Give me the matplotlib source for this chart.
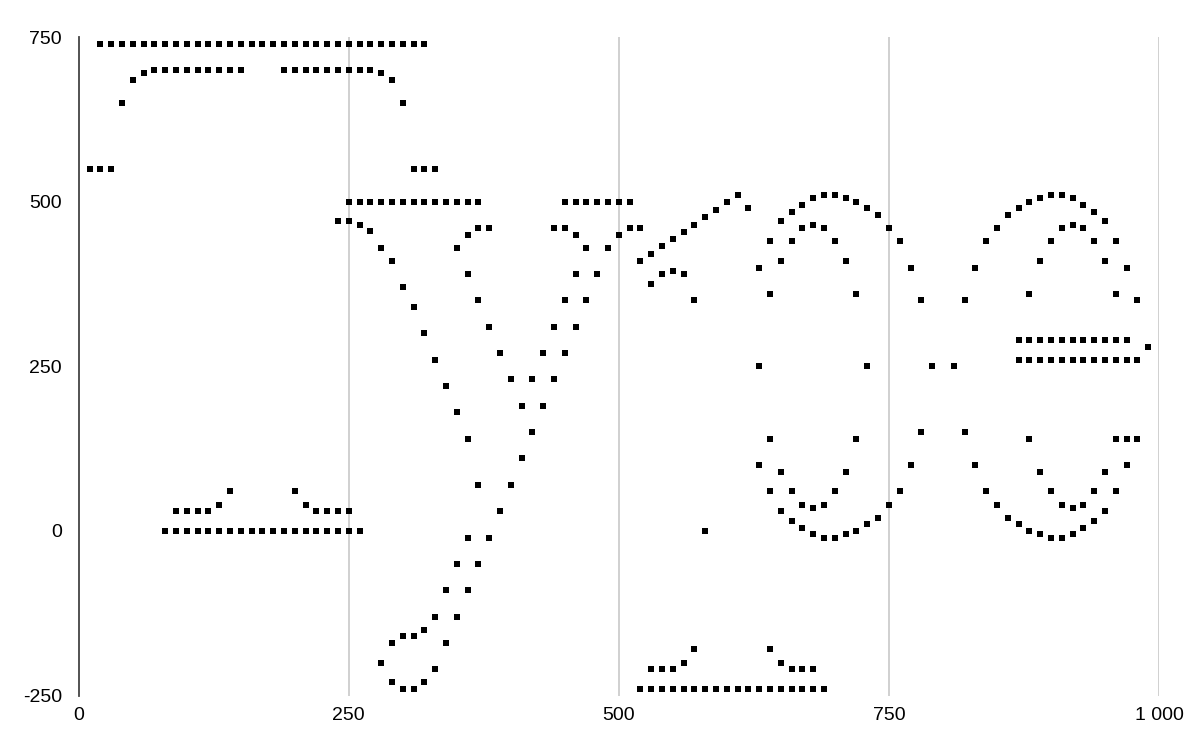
import matplotlib
matplotlib.use('Agg')
import matplotlib.pyplot as plt

plt.rcParams['font.family'] = ['Liberation Sans', 'DejaVu Sans']

# --- data, grouped by shape ---
# top-left "hat"
hat_top_x = [20, 30, 40, 50, 60, 70, 80, 90, 100, 110, 120, 130, 140, 150, 160, 170,
             180, 190, 200, 210, 220, 230, 240, 250, 260, 270, 280, 290, 300, 310, 320]
hat_top_y = [740] * len(hat_top_x)
hat_arch_x = [10, 20, 30, 40, 50, 60, 70, 80, 90, 100, 110, 120, 130, 140, 150,
              190, 200, 210, 220, 230, 240, 250, 260, 270, 280, 290, 300, 310, 320, 330]
hat_arch_y = [550, 550, 550, 650, 685, 695, 700, 700, 700, 700, 700, 700, 700, 700, 700,
              700, 700, 700, 700, 700, 700, 700, 700, 700, 695, 685, 650, 550, 550, 550]

# bottom-left "brim"
brim_x = [80, 90, 100, 110, 120, 130, 140, 150, 160, 170, 180, 190, 200, 210, 220,
          230, 240, 250, 260]
brim_y = [0] * len(brim_x)
bump_x = [90, 100, 110, 120, 130, 140, 200, 210, 220, 230, 240, 250]
bump_y = [30, 30, 30, 30, 40, 60, 60, 40, 30, 30, 30, 30]

# flat rows at 500
row500_x = [250, 260, 270, 280, 290, 300, 310, 320, 330, 340, 350, 360, 370,
            450, 460, 470, 480, 490, 500, 510]
row500_y = [500] * len(row500_x)

# big "V" with loop at the bottom
v_outer_x = [240, 250, 260, 270, 280, 290, 300, 310, 320, 330, 340, 350, 360, 370]
v_outer_y = [470, 470, 465, 455, 430, 410, 370, 340, 300, 260, 220, 180, 140, 70]
v_loop_x = [390, 380, 370, 360, 350, 340, 330, 320, 310, 300, 290, 280,
            290, 300, 310, 320, 330, 340, 350, 360]
v_loop_y = [30, -10, -50, -90, -130, -170, -210, -230, -240, -240, -230, -200,
            -170, -160, -160, -150, -130, -90, -50, -10]
v_inner_x = [350, 360, 370, 380, 360, 370, 380, 390, 400, 410, 420, 430, 440,
             410, 420, 400]
v_inner_y = [430, 450, 460, 460, 390, 350, 310, 270, 230, 190, 230, 190, 230,
             110, 150, 70]
v_right_x = [440, 450, 460, 470, 490, 500, 510, 520, 460, 480, 450, 470, 440, 460,
             430, 450]
v_right_y = [460, 460, 450, 430, 430, 450, 460, 460, 390, 390, 350, 350, 310, 310,
             270, 270]

# rising line and small arc near 500-620
rise_x = [520, 530, 540, 550, 560, 570, 580, 590, 600, 610, 620]
rise_y = [410, 421, 432, 443, 454, 465, 477, 488, 499, 510, 490]
arc_x = [530, 540, 550, 560, 570, 580]
arc_y = [375, 390, 395, 390, 350, 0]

# bottom-right "brim"
brim2_x = [520, 530, 540, 550, 560, 570, 580, 590, 600, 610, 620, 630, 640, 650,
           660, 670, 680, 690]
brim2_y = [-240] * len(brim2_x)
bump2_x = [530, 540, 550, 560, 570, 640, 650, 660, 670, 680]
bump2_y = [-210, -210, -210, -200, -180, -180, -200, -210, -210, -210]

# first ring (630-780)
ring1_top_x = [630, 640, 650, 660, 670, 680, 690, 700, 710, 720, 730, 740, 750,
               760, 770, 780, 790]
ring1_top_y = [400, 440, 470, 485, 495, 505, 510, 510, 505, 500, 490, 480, 460,
               440, 400, 350, 250]
ring1_bot_x = [630, 640, 650, 660, 670, 680, 690, 700, 710, 720, 730, 740, 750,
               760, 770, 780]
ring1_bot_y = [100, 60, 30, 15, 5, -5, -10, -10, -5, 0, 10, 20, 40, 60, 100, 150]
ring1_in_x = [640, 650, 660, 670, 680, 690, 700, 710, 720,
              640, 650, 660, 670, 680, 690, 700, 710, 720, 630, 730]
ring1_in_y = [360, 410, 440, 460, 465, 460, 440, 410, 360,
              140, 90, 60, 40, 35, 40, 60, 90, 140, 250, 250]

# second ring (810-980)
ring2_top_x = [810, 820, 830, 840, 850, 860, 870, 880, 890, 900, 910, 920, 930,
               940, 950, 960, 970, 980]
ring2_top_y = [250, 350, 400, 440, 460, 480, 490, 500, 505, 510, 510, 505, 495,
               485, 470, 440, 400, 350]
ring2_bot_x = [820, 830, 840, 850, 860, 870, 880, 890, 900, 910, 920, 930, 940,
               950, 960, 970]
ring2_bot_y = [150, 100, 60, 40, 20, 10, 0, -5, -10, -10, -5, 5, 15, 30, 60, 100]
ring2_in_x = [880, 890, 900, 910, 920, 930, 940, 950, 960,
              880, 890, 900, 910, 920, 930, 940, 950, 960, 970, 980]
ring2_in_y = [360, 410, 440, 460, 465, 460, 440, 410, 360,
              140, 90, 60, 40, 35, 40, 60, 90, 140, 140, 140]

# flat rows on the right
row290_x = [870, 880, 890, 900, 910, 920, 930, 940, 950, 960, 970]
row290_y = [290] * len(row290_x)
row260_x = [870, 880, 890, 900, 910, 920, 930, 940, 950, 960, 970, 980]
row260_y = [260] * len(row260_x)
tail_x = [990]
tail_y = [280]

groups = [
    (hat_top_x, hat_top_y), (hat_arch_x, hat_arch_y),
    (brim_x, brim_y), (bump_x, bump_y),
    (row500_x, row500_y),
    (v_outer_x, v_outer_y), (v_loop_x, v_loop_y),
    (v_inner_x, v_inner_y), (v_right_x, v_right_y),
    (rise_x, rise_y), (arc_x, arc_y),
    (brim2_x, brim2_y), (bump2_x, bump2_y),
    (ring1_top_x, ring1_top_y), (ring1_bot_x, ring1_bot_y), (ring1_in_x, ring1_in_y),
    (ring2_top_x, ring2_top_y), (ring2_bot_x, ring2_bot_y), (ring2_in_x, ring2_in_y),
    (row290_x, row290_y), (row260_x, row260_y), (tail_x, tail_y),
]

x_ticks = [0, 250, 500, 750, 1000]
x_tick_labels = ['0', '250', '500', '750', '1 000']
y_ticks = [-250, 0, 250, 500, 750]
y_tick_labels = ['-250', '0', '250', '500', '750']

fig = plt.figure(figsize=(12, 7.51), dpi=100)
ax = fig.add_axes([0.0656, 0.0738, 0.9002, 0.8769])

for gx, gy in groups:
    ax.scatter(gx, gy, marker='s', s=24, color='black', linewidths=0, zorder=3)

ax.set_xlim(0, 1000)
ax.set_ylim(-250, 750)
ax.set_xticks(x_ticks)
ax.set_xticklabels(x_tick_labels)
ax.set_yticks(y_ticks)
ax.set_yticklabels(y_tick_labels)
ax.tick_params(axis='both', length=0, labelsize=14, colors='black')
ax.tick_params(axis='x', pad=8)
ax.tick_params(axis='y', pad=12)

for v in x_ticks[1:]:
    ax.axvline(v, color='#c8c8c8', linewidth=1.2, zorder=1)

for side in ['top', 'right', 'bottom']:
    ax.spines[side].set_visible(False)
ax.spines['left'].set_color('#444444')
ax.spines['left'].set_linewidth(1.3)

fig.savefig('out.png', dpi=100, facecolor='white')
